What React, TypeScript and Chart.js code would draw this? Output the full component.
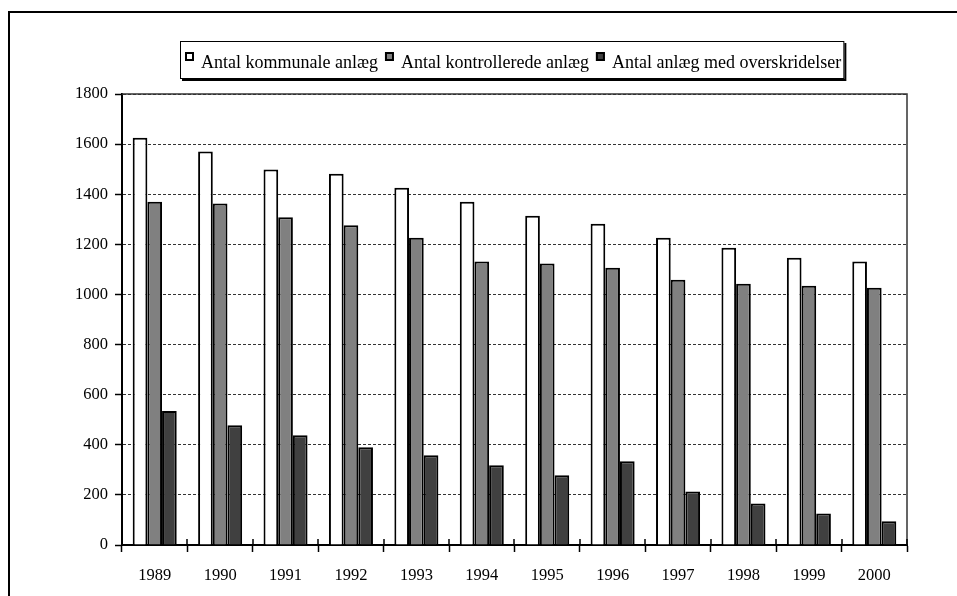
import React, { useEffect, useRef } from "react";
import { Chart, registerables } from "chart.js";

Chart.register(...registerables);

const categories = ["1989", "1990", "1991", "1992", "1993", "1994", "1995", "1996", "1997", "1998", "1999", "2000"];
const seriesLabels = ["Antal kommunale anlæg", "Antal kontrollerede anlæg", "Antal anlæg med overskridelser"];
const kommunale = [1625, 1571, 1499, 1482, 1426, 1370, 1314, 1282, 1226, 1186, 1146, 1131];
const kontrollerede = [1370, 1363, 1308, 1276, 1226, 1131, 1124, 1107, 1059, 1043, 1035, 1027];
const overskridelser = [535, 478, 438, 390, 358, 318, 278, 334, 214, 166, 126, 95];
const seriesColors = ["#ffffff", "#808080", "#404040"];
const yMin = 0;
const yMax = 1800;
const yStep = 200;

const FONT = '"Liberation Serif", "Times New Roman", serif';

const framePlugin = {
  id: "frame",
  beforeDraw(chart: any) {
    const { ctx, width, height } = chart;
    ctx.save();
    ctx.fillStyle = "#ffffff";
    ctx.fillRect(0, 0, width, height);
    ctx.strokeStyle = "#000";
    ctx.lineWidth = 2;
    ctx.beginPath();
    ctx.moveTo(9, height + 2);
    ctx.lineTo(9, 12);
    ctx.lineTo(width + 2, 12);
    ctx.stroke();
    ctx.restore();
  },
  afterDraw(chart: any) {
    const { ctx, chartArea } = chart;
    const xs = chart.scales.x;
    ctx.save();
    // top and right border of plot area
    ctx.strokeStyle = "#333";
    ctx.lineWidth = 1.5;
    ctx.beginPath();
    ctx.moveTo(chartArea.left, chartArea.top);
    ctx.lineTo(chartArea.right, chartArea.top);
    ctx.lineTo(chartArea.right, chartArea.bottom);
    ctx.stroke();
    // inner part of x tick marks (crossing the axis)
    ctx.strokeStyle = "#000";
    ctx.lineWidth = 1.5;
    const n = chart.data.labels.length;
    const half = (xs.getPixelForValue(1) - xs.getPixelForValue(0)) / 2;
    ctx.beginPath();
    for (let i = 0; i <= n; i++) {
      const x = Math.round(i < n ? xs.getPixelForValue(i) - half : xs.getPixelForValue(n - 1) + half);
      ctx.moveTo(x, chartArea.bottom - 6);
      ctx.lineTo(x, chartArea.bottom);
    }
    ctx.stroke();

    // legend
    ctx.font = "18px " + FONT;
    const items = chart.data.datasets.map((ds: any) => ({
      label: ds.label,
      fill: ds.backgroundColor,
      w: ctx.measureText(ds.label).width,
    }));
    const markerW = 9, markerGap = 7, itemGap = 7, padL = 5, padR = 3;
    let total = padL + padR + itemGap * (items.length - 1);
    items.forEach((it: any) => (total += markerW + markerGap + it.w));
    const center = (chartArea.left + chartArea.right) / 2 - 2;
    const boxLeft = Math.round(center - total / 2);
    const boxTop = 41;
    const boxH = 38;
    ctx.fillStyle = "#000";
    ctx.fillRect(boxLeft + 2, boxTop + 2, total, boxH);
    ctx.fillStyle = "#fff";
    ctx.fillRect(boxLeft, boxTop, total, boxH);
    ctx.strokeStyle = "#000";
    ctx.lineWidth = 1;
    ctx.strokeRect(boxLeft + 0.5, boxTop + 0.5, total - 1, boxH - 1);
    let x = boxLeft + padL;
    ctx.textBaseline = "alphabetic";
    ctx.textAlign = "left";
    items.forEach((it: any) => {
      ctx.fillStyle = it.fill;
      ctx.fillRect(x, boxTop + 11, markerW, markerW);
      ctx.strokeStyle = "#000";
      ctx.lineWidth = 2;
      ctx.strokeRect(x + 1, boxTop + 12, markerW - 2, markerW - 2);
      x += markerW + markerGap;
      ctx.fillStyle = "#000";
      ctx.fillText(it.label, x, boxTop + 27);
      x += it.w + itemGap;
    });
    ctx.restore();
  },
};

export default function App() {
  const ref = useRef<HTMLCanvasElement | null>(null);
  useEffect(() => {
    if (!ref.current) return;
    const chart = new Chart(ref.current, {
      type: "bar",
      data: {
        labels: categories,
        datasets: [
          { label: seriesLabels[0], data: kommunale, backgroundColor: seriesColors[0] },
          { label: seriesLabels[1], data: kontrollerede, backgroundColor: seriesColors[1] },
          { label: seriesLabels[2], data: overskridelser, backgroundColor: seriesColors[2] },
        ].map((d) => ({ ...d, borderColor: "#000", borderWidth: 2, borderSkipped: "start" as const })),
      },
      options: {
        animation: false,
        responsive: false,
        devicePixelRatio: 1,
        layout: { padding: { left: 0, top: 94, right: 50, bottom: 0 } },
        datasets: { bar: { barPercentage: 1, categoryPercentage: 0.673 } },
        plugins: { legend: { display: false }, tooltip: { enabled: false }, title: { display: false } },
        scales: {
          x: {
            offset: true,
            grid: {
              display: true,
              drawOnChartArea: false,
              drawTicks: true,
              tickLength: 7,
              tickColor: "#000",
              tickWidth: 1.5,
              offset: true,
            },
            border: { display: true, color: "#000", width: 2 },
            ticks: { color: "#000", font: { family: FONT, size: 16.5 }, padding: 14, maxRotation: 0 },
            afterFit: (s: any) => {
              s.height = 51;
            },
          },
          y: {
            min: yMin,
            max: yMax,
            grid: {
              color: "#333",
              lineWidth: 1,
              drawTicks: true,
              tickLength: 7,
              tickColor: "#000",
              tickWidth: 1.5,
              tickBorderDash: [],
            },
            border: { display: true, color: "#000", width: 2, dash: [3, 2] },
            ticks: {
              stepSize: yStep,
              color: "#000",
              font: { family: FONT, size: 16.5 },
              padding: 7,
              callback: (v: any) => String(v),
            },
            afterFit: (s: any) => {
              s.width = 122;
            },
          },
        },
      },
      plugins: [framePlugin],
    });
    return () => chart.destroy();
  }, []);
  return (
    <div style={{ position: "fixed", left: 0, top: 0, width: 957, height: 596, background: "#fff" }}>
      <canvas ref={ref} width={957} height={596} style={{ display: "block" }} />
    </div>
  );
}
